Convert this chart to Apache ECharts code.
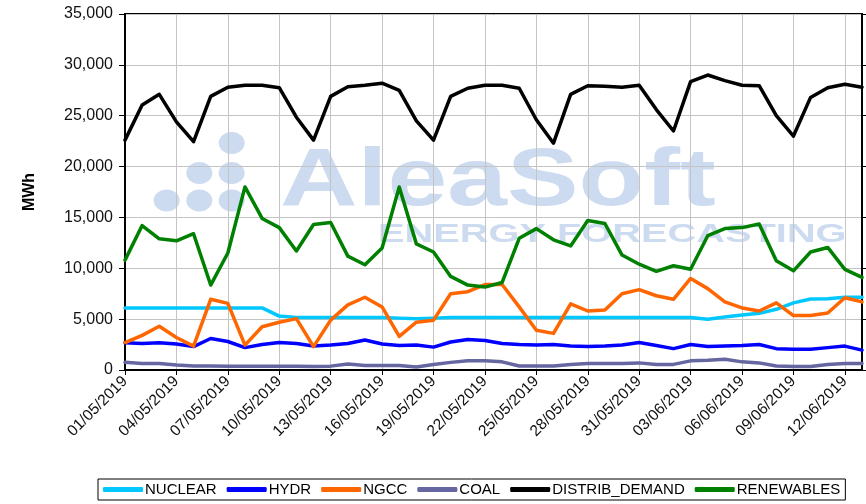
<!DOCTYPE html>
<html>
<head>
<meta charset="utf-8">
<script src="https://cdn.jsdelivr.net/npm/echarts@6/dist/echarts.min.js"></script>
<style>
html, body { margin: 0; padding: 0; background: #fff; }
#main { width: 866px; height: 504px; }
</style>
</head>
<body>
<div id="main"></div>
<script>
const dates = [
    '01/05/2019', '02/05/2019', '03/05/2019', '04/05/2019', '05/05/2019', '06/05/2019', '07/05/2019', '08/05/2019',
    '09/05/2019', '10/05/2019', '11/05/2019', '12/05/2019', '13/05/2019', '14/05/2019', '15/05/2019', '16/05/2019',
    '17/05/2019', '18/05/2019', '19/05/2019', '20/05/2019', '21/05/2019', '22/05/2019', '23/05/2019', '24/05/2019',
    '25/05/2019', '26/05/2019', '27/05/2019', '28/05/2019', '29/05/2019', '30/05/2019', '31/05/2019', '01/06/2019',
    '02/06/2019', '03/06/2019', '04/06/2019', '05/06/2019', '06/06/2019', '07/06/2019', '08/06/2019', '09/06/2019',
    '10/06/2019', '11/06/2019', '12/06/2019', '13/06/2019'
];

const nuclear = [6100, 6100, 6100, 6100, 6100, 6100, 6100, 6100, 6100, 5300, 5150, 5150, 5150, 5150, 5150, 5150,
    5100, 5050, 5100, 5150, 5150, 5150, 5150, 5150, 5150, 5150, 5150, 5150, 5150, 5150, 5150, 5150,
    5150, 5150, 5000, 5200, 5400, 5570, 5970, 6600, 6980, 7000, 7150, 7150];
const hydr = [2690, 2600, 2690, 2550, 2300, 3100, 2800, 2200, 2500, 2700, 2600, 2350, 2450, 2600, 2950, 2550,
    2400, 2450, 2250, 2750, 3000, 2900, 2600, 2500, 2450, 2500, 2350, 2300, 2350, 2450, 2700, 2400,
    2100, 2500, 2300, 2350, 2400, 2500, 2100, 2050, 2050, 2200, 2350, 1950];
const ngcc = [2700, 3400, 4300, 3200, 2350, 6950, 6550, 2450, 4250, 4700, 5050, 2300, 4900, 6400, 7150, 6200,
    3300, 4700, 4900, 7500, 7700, 8400, 8400, 6200, 3900, 3600, 6500, 5800, 5900, 7500, 7900, 7300,
    6950, 9000, 8000, 6700, 6100, 5800, 6600, 5350, 5350, 5600, 7100, 6700];
const coal = [750, 650, 650, 500, 400, 400, 380, 380, 380, 380, 380, 350, 380, 600, 450, 450,
    450, 300, 550, 750, 900, 900, 800, 400, 400, 400, 550, 650, 650, 650, 700, 550,
    550, 900, 950, 1050, 800, 700, 400, 350, 350, 550, 650, 650];
const demand = [22600, 26050, 27100, 24400, 22450, 26900, 27800, 28000, 28000, 27750, 24850, 22600, 26900, 27850, 28000, 28200,
    27500, 24500, 22600, 26900, 27700, 28000, 28000, 27700, 24600, 22300, 27100, 27950, 27900, 27800, 28000, 25600,
    23500, 28350, 29000, 28450, 28000, 27950, 25000, 23000, 26800, 27750, 28100, 27800];
const renewables = [10800, 14200, 12900, 12700, 13400, 8350, 11500, 18000, 14900, 14000, 11700, 14300, 14500, 11200, 10350, 12000,
    18000, 12400, 11600, 9200, 8350, 8150, 8600, 12950, 13900, 12800, 12200, 14700, 14400, 11300, 10400, 9700,
    10250, 9900, 13200, 13900, 14000, 14350, 10750, 9750, 11600, 12050, 9900, 9100];

const seriesNames = ['NUCLEAR', 'HYDR', 'NGCC', 'COAL', 'DISTRIB_DEMAND', 'RENEWABLES'];
const seriesColors = ['#00c8ff', '#0000ff', '#ff6600', '#6666a0', '#000000', '#008000'];
const seriesData = [nuclear, hydr, ngcc, coal, demand, renewables];

const font = '"Liberation Sans", Arial, sans-serif';
const wm = 'rgba(120, 160, 215, 0.38)';

const chart = echarts.init(document.getElementById('main'));

// watermark dots of the logo
const dots = [[231.7, 143], [199.3, 173], [231.7, 173], [166.7, 200.5], [199.3, 200.5], [231.7, 200.5]];

const option = {
    animation: false,
    textStyle: { fontFamily: font },
    grid: {
        left: 125, right: 4, top: 14, bottom: 134,
        show: true, borderColor: '#000', borderWidth: 2
    },
    graphic: dots.map(d => ({
        type: 'ellipse', silent: true,
        shape: { cx: d[0], cy: d[1], rx: 13, ry: 11 },
        style: { fill: wm }
    })).concat([
        {
            type: 'text', left: 280, top: 141, scaleX: 1.31, silent: true,
            style: { text: 'AleaSoft', fill: wm, font: 'bold 82px ' + font }
        },
        {
            type: 'text', left: 378, top: 222, scaleX: 1.53, silent: true,
            style: { text: 'ENERGY FORECASTING', fill: wm, font: 'bold 26px ' + font }
        }
    ]),
    legend: {
        data: seriesNames,
        left: 98,
        top: 479,
        padding: [3, 5, 3, 5],
        borderColor: '#000',
        borderWidth: 1,
        borderRadius: 0,
        icon: 'roundRect',
        itemWidth: 40,
        itemHeight: 5,
        itemGap: 10,
        textStyle: { fontSize: 15, color: '#000', fontFamily: font, padding: [0, 0, 0, -3] }
    },
    xAxis: {
        type: 'category',
        data: dates,
        boundaryGap: false,
        axisLine: { lineStyle: { color: '#000', width: 2 } },
        axisTick: { interval: 2, length: 5, lineStyle: { color: '#000' } },
        axisLabel: {
            interval: 2, rotate: 45, margin: 9,
            fontSize: 15.5, color: '#111', fontFamily: font
        },
        splitLine: { show: true, interval: 2, lineStyle: { color: '#c4c4c4', width: 1 } }
    },
    yAxis: [{
        type: 'value',
        min: 0, max: 35000, interval: 5000,
        name: 'MWh',
        nameLocation: 'middle',
        nameGap: 87,
        nameTextStyle: { fontSize: 16, fontWeight: 'bold', color: '#000', fontFamily: font },
        axisLine: { show: true, lineStyle: { color: '#000', width: 2 } },
        axisTick: { show: true, length: 6, lineStyle: { color: '#000' } },
        axisLabel: {
            fontSize: 16, color: '#111', margin: 12, fontFamily: font,
            formatter: v => v.toLocaleString('en-US')
        },
        splitLine: { show: true, lineStyle: { color: '#c4c4c4', width: 1 } }
    }, {
        type: 'value',
        position: 'right',
        min: 0, max: 35000, interval: 5000,
        axisLine: { show: true, lineStyle: { color: '#000', width: 2 } },
        axisTick: { show: true, length: 5, lineStyle: { color: '#000' } },
        axisLabel: { show: false },
        splitLine: { show: false }
    }],
    series: seriesNames.map((name, i) => ({
        name: name,
        type: 'line',
        data: seriesData[i],
        symbol: 'none',
        color: seriesColors[i],
        lineStyle: { width: 3.5, color: seriesColors[i], cap: 'round', join: 'round' },
        z: 3
    }))
};

chart.setOption(option);
</script>
</body>
</html>
